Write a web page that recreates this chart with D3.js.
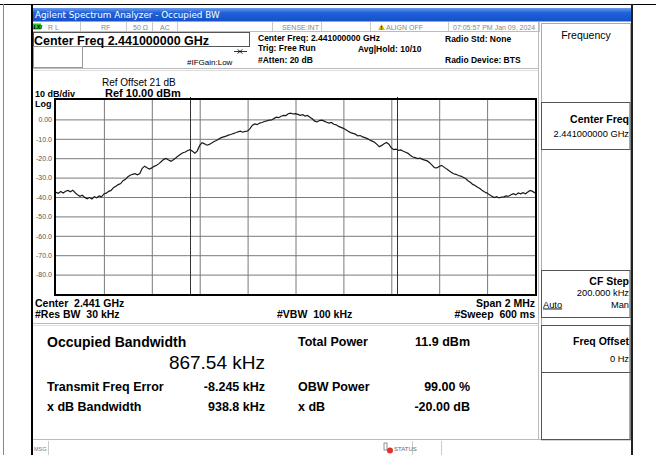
<!DOCTYPE html>
<html>
<head>
<meta charset="utf-8">
<script src="https://cdn.jsdelivr.net/npm/d3@7"></script>
<style>
  body { margin: 0; background: #fff; }
  text { font-family: "Liberation Sans", Arial, sans-serif; white-space: pre; }
</style>
</head>
<body>
<svg id="screen" width="656" height="455"></svg>
<script>
// sweep settings (MHz relative to center 2441 MHz)
var centerMHz = 2441
var startMHz = -1
var stopMHz = 1
var refLevel = 10
var dbPerDiv = 10

var yTickValues = [0, -10, -20, -30, -40, -50, -60, -70, -80]
var yTickLabels = ["0.00", "-10.0", "-20.0", "-30.0", "-40.0", "-50.0", "-60.0", "-70.0", "-80.0"]
var xGridMHz = [-0.8, -0.6, -0.4, -0.2, 0, 0.2, 0.4, 0.6, 0.8]

// trace, 201 points (dBm), -1 MHz .. +1 MHz
var traceDbm = [
  -37.6, -38.1, -37.2, -37.9, -37.0, -36.6, -37.3, -36.5, -37.8, -38.9,
  -39.6, -39.1, -40.2, -40.9, -40.3, -41.0, -39.8, -40.4, -39.5, -39.9,
  -38.4, -38.0, -37.1, -36.6, -35.2, -34.5, -33.6, -33.1, -31.6, -30.9,
  -29.6, -28.8, -28.3, -28.0, -28.6, -27.9, -25.2, -24.1, -24.9, -25.6,
  -25.0, -24.2, -23.6, -22.8, -21.7, -20.6, -20.1, -20.9, -21.6, -20.8,
  -19.9, -18.8, -18.0, -17.2, -16.8, -16.0, -15.6, -16.4, -17.4, -16.2,
  -13.4, -12.0, -12.6, -13.3, -12.9, -12.2, -11.4, -10.9, -10.1, -9.4,
  -9.0, -8.6, -8.1, -7.8, -7.3, -6.9, -6.4, -6.1, -6.6, -6.2,
  -6.0, -4.8, -3.0, -2.3, -2.7, -1.9, -1.6, -1.1, -0.8, -0.4,
  -0.3, 0.4, 1.2, 0.9, 1.6, 2.1, 2.0, 2.9, 3.2, 2.8,
  3.0, 2.6, 2.1, 2.4, 1.7, 2.0, 1.1, 0.3, -0.9, -1.3,
  -0.6, -0.4, -0.9, -1.5, -1.9, -1.6, -2.5, -2.8, -3.6, -4.1,
  -4.6, -5.3, -6.1, -6.8, -7.2, -7.6, -8.5, -8.3, -9.0, -9.4,
  -9.9, -10.6, -11.2, -11.8, -12.9, -14.1, -13.4, -12.6, -11.9, -12.8,
  -14.6, -15.6, -15.3, -16.0, -15.7, -16.4, -16.9, -17.5, -18.6, -19.4,
  -19.7, -20.2, -20.0, -20.6, -21.0, -21.4, -22.3, -23.6, -24.9, -25.0,
  -24.3, -23.7, -24.6, -25.5, -26.3, -27.2, -28.0, -28.3, -28.9, -29.2,
  -29.8, -30.5, -31.6, -32.4, -33.5, -34.1, -35.0, -35.6, -36.7, -37.4,
  -38.0, -38.9, -39.6, -40.3, -39.8, -40.5, -40.1, -39.9, -39.4, -39.6,
  -38.8, -38.3, -38.9, -37.9, -38.4, -37.8, -38.3, -37.4, -36.6, -37.1,
  -37.9
]

// measurement results
var obwKHz = 867.54
var freqErrKHz = -8.245
var leftLabels = ["Transmit Freq Error", "x dB Bandwidth"]
var leftValues = ["-8.245 kHz", "938.8 kHz"]
var rightLabels = ["Total Power", "OBW Power", "x dB"]
var rightValues = ["11.9 dBm", "99.00 %", "-20.00 dB"]

var svg = d3.select("#screen")

// ---- outer frame ----
svg.append("line").attr("x1", 0).attr("x2", 656).attr("y1", 4.5).attr("y2", 4.5).attr("stroke", "#000")
svg.append("line").attr("x1", 3.5).attr("x2", 3.5).attr("y1", 4).attr("y2", 455).attr("stroke", "#888")
svg.append("rect").attr("x", 31).attr("y", 4).attr("width", 2).attr("height", 451).attr("fill", "#000")
svg.append("rect").attr("x", 631).attr("y", 4).attr("width", 2).attr("height", 451).attr("fill", "#222")

// title bar
var grad = svg.append("defs").append("linearGradient").attr("id", "tb")
    .attr("x1", 0).attr("x2", 0).attr("y1", 0).attr("y2", 1)
grad.append("stop").attr("offset", "0%").attr("stop-color", "#6a9be8")
grad.append("stop").attr("offset", "35%").attr("stop-color", "#1f62d9")
grad.append("stop").attr("offset", "100%").attr("stop-color", "#1550c8")
svg.append("rect").attr("x", 33).attr("y", 8).attr("width", 598).attr("height", 13.5).attr("fill", "url(#tb)")
svg.append("text").attr("x", 35).attr("y", 18).attr("fill", "#fff")
    .style("font-size", "8.8px").style("font-family", "'DejaVu Sans', sans-serif")
    .text("Agilent Spectrum Analyzer - Occupied BW")

// status row
svg.append("line").attr("x1", 33).attr("x2", 540).attr("y1", 31.5).attr("y2", 31.5).attr("stroke", "#bbb")
var sepX = [80, 126, 152, 177, 272, 321, 370, 448, 539]
svg.selectAll(".sep").data(sepX).enter().append("line")
    .attr("x1", d => d + 0.5).attr("x2", d => d + 0.5).attr("y1", 22).attr("y2", 31)
    .attr("stroke", "#c8c8c8")
svg.append("rect").attr("x", 33).attr("y", 23.5).attr("width", 8).attr("height", 6).attr("fill", "#2bc22b")
svg.append("text").attr("x", 33.5).attr("y", 29).style("font-size", "5.5px").style("font-weight", "bold")
    .style("font-style", "italic").text("LXI")
var statusItems = [["R L", 48], ["RF", 101], ["50 Ω", 133], ["AC", 160], ["SENSE:INT", 282], ["ALIGN OFF", 386], ["07:05:57 PM Jan 09, 2024", 453]]
svg.selectAll(".st").data(statusItems).enter().append("text")
    .attr("x", d => d[1]).attr("y", 29.5).attr("fill", "#888")
    .style("font-size", "7px").text(d => d[0])
svg.append("path").attr("d", "M378,30 L381.5,24 L385,30 Z").attr("fill", "#e2b400")
svg.append("text").attr("x", 380.6).attr("y", 29.6).style("font-size", "5px").style("font-weight", "bold").text("!")

// header
svg.append("rect").attr("x", 33.5).attr("y", 32.5).attr("width", 216).attr("height", 14)
    .attr("fill", "none").attr("stroke", "#555")
svg.append("text").attr("x", 34).attr("y", 44.5).style("font-size", "12.5px").style("font-weight", "bold")
    .text("Center Freq 2.441000000 GHz")
svg.append("rect").attr("x", 33.5).attr("y", 46.5).attr("width", 49).attr("height", 21)
    .attr("fill", "none").attr("stroke", "#999")
svg.append("text").attr("x", 187).attr("y", 64.5).style("font-size", "8px").text("#IFGain:Low")
svg.append("path").attr("d", "M234,51.5 H240 M237.5,49.5 L240,51.5 L237.5,53.5 M247,51.5 H240 M242.5,49.5 L240,51.5 L242.5,53.5")
    .attr("stroke", "#000").attr("fill", "none").attr("stroke-width", 0.8)
var hdr = [["Center Freq: 2.441000000 GHz", 258, 41], ["Trig: Free Run", 258, 51], ["#Atten: 20 dB", 258, 63],
           ["Avg|Hold: 10/10", 358, 51.5], ["Radio Std: None", 445, 42], ["Radio Device: BTS", 445, 63]]
svg.selectAll(".hd").data(hdr).enter().append("text")
    .attr("x", d => d[1]).attr("y", d => d[2])
    .style("font-size", "8.5px").style("font-weight", "bold").text(d => d[0])
svg.append("line").attr("x1", 33).attr("x2", 539).attr("y1", 68.5).attr("y2", 68.5).attr("stroke", "#bbb")
svg.append("line").attr("x1", 33).attr("x2", 539).attr("y1", 70.5).attr("y2", 70.5).attr("stroke", "#ddd")

// ---- plot ----
var plot = {left: 56, right: 535, top: 100, bottom: 294}
var x = d3.scaleLinear().domain([startMHz, stopMHz]).range([plot.left, plot.right])
var y = d3.scaleLinear().domain([refLevel - 10 * dbPerDiv, refLevel]).range([plot.bottom, plot.top])

svg.append("text").attr("x", 102).attr("y", 86).style("font-size", "10px").text("Ref Offset 21 dB")
svg.append("text").attr("x", 105).attr("y", 97).style("font-size", "11px").style("font-weight", "bold").text("Ref 10.00 dBm")
svg.append("text").attr("x", 35).attr("y", 97).style("font-size", "9px").style("font-weight", "bold").text("10 dB/div")
svg.append("text").attr("x", 35).attr("y", 106.5).style("font-size", "9px").style("font-weight", "bold").text("Log")

// horizontal grid + labels
var yAxis = svg.append("g").attr("transform", "translate(" + plot.left + ",0)")
    .call(d3.axisLeft(y).tickValues(yTickValues).tickSize(-(plot.right - plot.left)).tickPadding(4)
        .tickFormat((d, i) => yTickLabels[i]))
yAxis.select(".domain").remove()
yAxis.selectAll("line").attr("stroke", "#7a7a7a")
yAxis.selectAll("text").attr("fill", "#555").style("font-size", "7px")
    .style("font-family", "'Liberation Sans', Arial, sans-serif")

// vertical grid
var xAxis = svg.append("g").attr("transform", "translate(0," + plot.bottom + ")")
    .call(d3.axisBottom(x).tickValues(xGridMHz).tickSize(-(plot.bottom - plot.top)).tickFormat(""))
xAxis.select(".domain").remove()
xAxis.selectAll("line").attr("stroke", "#7a7a7a")

// OBW markers
var obwEdges = [freqErrKHz / 1000 - obwKHz / 2000, freqErrKHz / 1000 + obwKHz / 2000]
svg.selectAll(".obw").data(obwEdges).enter().append("line")
    .attr("x1", d => Math.round(x(d)) + 0.5).attr("x2", d => Math.round(x(d)) + 0.5)
    .attr("y1", plot.top - 3).attr("y2", plot.bottom)
    .attr("stroke", "#333")

// trace
var step = (stopMHz - startMHz) / (traceDbm.length - 1)
var line = d3.line().x((d, i) => x(startMHz + i * step)).y(d => y(d))
svg.append("path").datum(traceDbm).attr("d", line)
    .attr("fill", "none").attr("stroke", "#1a1a1a").attr("stroke-width", 1.2)

svg.append("rect").attr("x", plot.left - 1).attr("y", plot.top - 1)
    .attr("width", plot.right - plot.left + 2).attr("height", plot.bottom - plot.top + 2)
    .attr("fill", "none").attr("stroke", "#000").attr("stroke-width", 2)

// bottom annotation
var annot = [["Center  2.441 GHz", 35, 306.5, "start"], ["#Res BW  30 kHz", 35, 318, "start"],
             ["#VBW  100 kHz", 277, 318, "start"], ["Span 2 MHz", 535, 306.5, "end"], ["#Sweep  600 ms", 535, 318, "end"]]
svg.selectAll(".an").data(annot).enter().append("text")
    .attr("x", d => d[1]).attr("y", d => d[2]).attr("text-anchor", d => d[3])
    .style("font-size", "10.5px").style("font-weight", "bold").text(d => d[0])

// ---- measurement panel ----
svg.append("line").attr("x1", 33).attr("x2", 539).attr("y1", 323.5).attr("y2", 323.5).attr("stroke", "#bbb")
svg.append("line").attr("x1", 33).attr("x2", 539).attr("y1", 325.5).attr("y2", 325.5).attr("stroke", "#ddd")
svg.append("text").attr("x", 47).attr("y", 347).style("font-size", "14px").style("font-weight", "bold")
    .text("Occupied Bandwidth")
svg.append("text").attr("x", 265).attr("y", 369).attr("text-anchor", "end").style("font-size", "19px")
    .text(d3.format(".2f")(obwKHz) + " kHz")
var rowsY = [391, 411]
svg.selectAll(".ll").data(leftLabels).enter().append("text")
    .attr("x", 47).attr("y", (d, i) => rowsY[i]).style("font-size", "12.5px").style("font-weight", "bold").text(d => d)
svg.selectAll(".lv").data(leftValues).enter().append("text")
    .attr("x", 265).attr("y", (d, i) => rowsY[i]).attr("text-anchor", "end")
    .style("font-size", "12.5px").style("font-weight", "bold").text(d => d)
var rowsY2 = [345.5, 391, 411]
svg.selectAll(".rl").data(rightLabels).enter().append("text")
    .attr("x", 298).attr("y", (d, i) => rowsY2[i]).style("font-size", "12.5px").style("font-weight", "bold").text(d => d)
svg.selectAll(".rv").data(rightValues).enter().append("text")
    .attr("x", 470).attr("y", (d, i) => rowsY2[i]).attr("text-anchor", "end")
    .style("font-size", "12.5px").style("font-weight", "bold").text(d => d)
svg.append("line").attr("x1", 33).attr("x2", 541).attr("y1", 439.5).attr("y2", 439.5).attr("stroke", "#bbb")

// ---- softkey panel ----
svg.append("line").attr("x1", 538.5).attr("x2", 538.5).attr("y1", 22).attr("y2", 440).attr("stroke", "#bbb")
svg.append("rect").attr("x", 541.5).attr("y", 23.5).attr("width", 89).attr("height", 416.5)
    .attr("fill", "none").attr("stroke", "#aaa")
svg.append("text").attr("x", 586).attr("y", 38.5).attr("text-anchor", "middle").style("font-size", "10.5px").text("Frequency")
var keyBoxes = [[102.5, 47], [270.5, 47], [325.5, 47], [372.5, 67]]
svg.selectAll(".kb").data(keyBoxes).enter().append("rect")
    .attr("x", 541.5).attr("y", d => d[0]).attr("width", 88.5).attr("height", d => d[1])
    .attr("fill", "none").attr("stroke", "#555")
var keyText = [["Center Freq", 122.5, "10.5px", "bold"], ["2.441000000 GHz", 136.5, "9.3px", "normal"],
               ["CF Step", 285, "10.5px", "bold"], ["200.000 kHz", 296, "9.3px", "normal"], ["Man", 307.5, "9.3px", "normal"],
               ["Freq Offset", 345, "10.5px", "bold"], ["0 Hz", 361.5, "9.3px", "normal"]]
svg.selectAll(".kt").data(keyText).enter().append("text")
    .attr("x", 629).attr("y", d => d[1]).attr("text-anchor", "end")
    .style("font-size", d => d[2]).style("font-weight", d => d[3]).text(d => d[0])
svg.append("text").attr("x", 543).attr("y", 307.5).style("font-size", "9.3px").style("text-decoration", "underline").text("Auto")

// ---- message bar ----
svg.append("text").attr("x", 34).attr("y", 451).attr("fill", "#777").style("font-size", "5.5px").text("MSG")
svg.selectAll(".mb").data([48.5, 412.5, 441.5]).enter().append("line")
    .attr("x1", d => d).attr("x2", d => d).attr("y1", 441).attr("y2", 455).attr("stroke", "#ccc")
svg.append("rect").attr("x", 384).attr("y", 443).attr("width", 3).attr("height", 7).attr("fill", "none").attr("stroke", "#666").attr("stroke-width", 0.7)
svg.append("circle").attr("cx", 390).attr("cy", 450.5).attr("r", 3).attr("fill", "#e03030")
svg.append("text").attr("x", 394).attr("y", 451).attr("fill", "#666").style("font-size", "6px").text("STATUS")
</script>
</body>
</html>
